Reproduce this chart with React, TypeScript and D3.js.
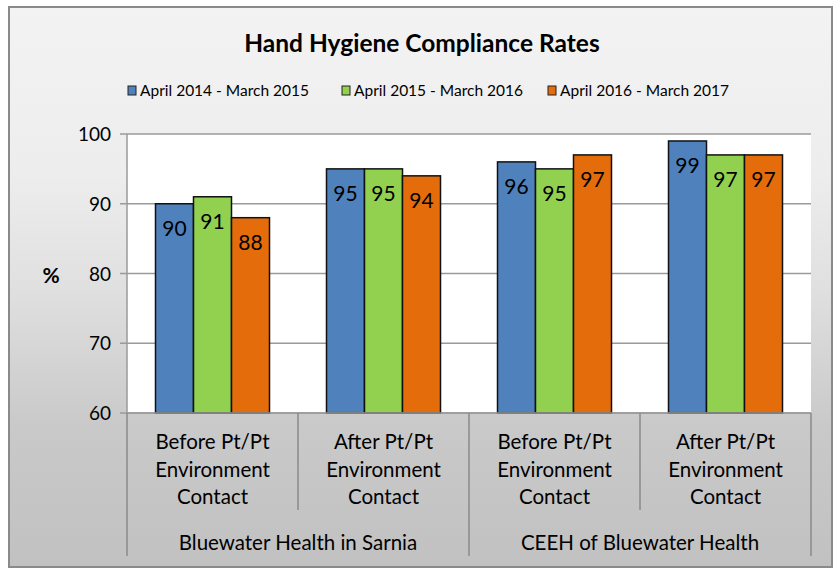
import React from "react";
import * as d3 from "d3";

const series = ["April 2014 - March 2015", "April 2015 - March 2016", "April 2016 - March 2017"];
const colors = ["#4f81bd", "#92d050", "#e46c0a"];
const categories = [
  ["Before Pt/Pt", "Environment", "Contact"],
  ["After Pt/Pt", "Environment", "Contact"],
  ["Before Pt/Pt", "Environment", "Contact"],
  ["After Pt/Pt", "Environment", "Contact"],
];
const groups = ["Bluewater Health in Sarnia", "CEEH of Bluewater Health"];
const values2015 = [90, 95, 96, 99];
const values2016 = [91, 95, 95, 97];
const values2017 = [88, 94, 97, 97];
const yTicks = [60, 70, 80, 90, 100];

const W = 834, H = 573;
const font = "Lato, 'Open Sans', sans-serif";

export default function App() {
  const left = 127, right = 811, top = 134, bottom = 413;
  const y = d3.scaleLinear().domain([60, 100]).range([bottom, top]);
  const x0 = d3.scaleBand().domain(d3.range(4).map(String)).range([left, right]).paddingInner(0).paddingOuter(0);
  const bw = x0.bandwidth();
  const barW = bw / 4.5;
  const allVals = [values2015, values2016, values2017];
  return (
    <svg width={W} height={H} style={{ position: "absolute", left: 0, top: 0 }} fontFamily={font}>
      <defs>
        <linearGradient id="bg" x1="0" y1="0" x2="0" y2="1">
          <stop offset="0" stopColor="#f3f3f3" />
          <stop offset="0.3" stopColor="#ededed" />
          <stop offset="0.5" stopColor="#e0e0e0" />
          <stop offset="0.75" stopColor="#c9c9c9" />
          <stop offset="1" stopColor="#c1c1c1" />
        </linearGradient>
      </defs>
      <rect x={9} y={7} width={823} height={560} fill="url(#bg)" stroke="#8a8a8a" strokeWidth={2} />
      <text x={422} y={52} textAnchor="middle" fontSize={24.5} fontWeight="bold" fill="#000">Hand Hygiene Compliance Rates</text>
      {series.map((s, i) => {
        const lx = [128, 342, 548][i];
        return (
          <g key={s}>
            <rect x={lx} y={86} width={8} height={9} fill={colors[i]} stroke="#222" strokeWidth={1} />
            <text x={lx + 12} y={96} fontSize={15.5} fill="#000">{s}</text>
          </g>
        );
      })}
      <rect x={left} y={top} width={right - left} height={bottom - top} fill="#fff" />
      {yTicks.map((t) => (
        <g key={t}>
          <line x1={left - 7} x2={right} y1={y(t)} y2={y(t)} stroke="#9a9a9a" strokeWidth={1.5} />
          <text x={111} y={y(t) + 7} textAnchor="end" fontSize={19} fill="#000">{t}</text>
        </g>
      ))}
      <line x1={left} x2={left} y1={top} y2={bottom} stroke="#9a9a9a" strokeWidth={1.5} />
      <text x={51} y={283} textAnchor="middle" fontSize={21} fontWeight="bold" fill="#000">%</text>
      {categories.map((c, ci) => {
        const cx0 = x0(String(ci))!;
        return (
          <g key={ci}>
            {allVals.map((vals, si) => {
              const bx = cx0 + barW * 0.75 + si * barW;
              const v = vals[ci];
              return (
                <g key={si}>
                  <rect x={bx} y={y(v)} width={barW} height={bottom - y(v)} fill={colors[si]} stroke="#111" strokeWidth={1.5} />
                  <text x={bx + barW / 2} y={y(v) + 32} textAnchor="middle" fontSize={21} fill="#000">{v}</text>
                </g>
              );
            })}
            {c.map((line, li) => (
              <text key={li} x={cx0 + bw / 2} y={449 + li * 27.5} textAnchor="middle" fontSize={20.5} fill="#000">{line}</text>
            ))}
          </g>
        );
      })}
      <line x1={left} x2={right} y1={bottom} y2={bottom} stroke="#9a9a9a" strokeWidth={1.5} />
      {[1, 3].map((i) => (
        <line key={i} x1={x0(String(i))!} x2={x0(String(i))!} y1={bottom} y2={510} stroke="#8a8a8a" strokeWidth={1.5} />
      ))}
      {[0, 2, 4].map((i) => {
        const xx = i === 4 ? right : x0(String(i))!;
        return <line key={i} x1={xx} x2={xx} y1={bottom} y2={556} stroke="#8a8a8a" strokeWidth={1.5} />;
      })}
      {groups.map((g, gi) => (
        <text key={g} x={(x0(String(gi * 2))! + (gi === 1 ? right : x0("2")!)) / 2} y={550} textAnchor="middle" fontSize={20.5} fill="#000">{g}</text>
      ))}
    </svg>
  );
}
